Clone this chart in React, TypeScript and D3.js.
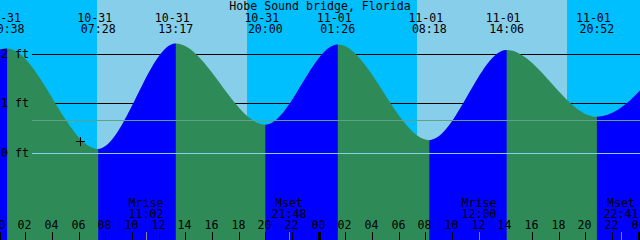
import React from "react";
import * as d3 from "d3";

const title = "Hobe Sound bridge, Florida";
const domainStart = "2021-10-31 00:06";
const domainEnd = "2021-11-02 00:06";

const tideTimes = [
  "2021-10-30 18:50",
  "2021-10-31 00:38",
  "2021-10-31 07:28",
  "2021-10-31 13:17",
  "2021-10-31 20:00",
  "2021-11-01 01:26",
  "2021-11-01 08:18",
  "2021-11-01 14:06",
  "2021-11-01 20:52",
  "2021-11-02 02:30",
];
const tideHeights = [0.5, 2.1, 0.07, 2.2, 0.56, 2.18, 0.25, 2.07, 0.72, 2.05];

const sunriseTimes = ["2021-10-31 07:23", "2021-11-01 07:23"];
const sunsetTimes = ["2021-10-31 18:38", "2021-11-01 18:38"];

const moonLabels = ["Mrise", "Mset", "Mrise", "Mset"];
const moonTimes = ["2021-10-31 11:02", "2021-10-31 21:48", "2021-11-01 12:00", "2021-11-01 22:41"];

const levelTicks = [0, 1, 2];
const mslLevel = 0.65;
const markTime = "2021-10-31 06:06";
const markHeight = 0.23;

const W = 640;
const H = 240;
const NIGHT = "#00BFFF";
const DAY = "#87CEEB";
const EBB = "#2E8B57";
const FLOOD = "#0000FF";
const FONT = "'DejaVu Sans Mono', monospace";
const FS = 11.6;

const parse = d3.utcParse("%Y-%m-%d %H:%M");
const fmtDate = d3.utcFormat("%m-%d");
const fmtTime = d3.utcFormat("%H:%M");
const fmtHour = d3.utcFormat("%H");

export default function App() {
  const x = d3.scaleUtc().domain([parse(domainStart)!, parse(domainEnd)!]).range([0, W]);
  const y = d3.scaleLinear().domain([0, 2]).range([152.5, 53.5]);

  const pts = tideTimes.map((t, i) => ({ t: parse(t)!, h: tideHeights[i] }));
  const area = d3
    .area<{ t: Date; h: number }>()
    .x((d) => x(d.t))
    .y0(H)
    .y1((d) => y(d.h))
    .curve(d3.curveMonotoneX);
  const areaPath = area(pts) || "";

  const rising: { x0: number; x1: number }[] = [];
  for (let i = 0; i < pts.length - 1; i++) {
    if (pts[i + 1].h > pts[i].h) rising.push({ x0: x(pts[i].t), x1: x(pts[i + 1].t) });
  }

  const days = sunriseTimes.map((s, i) => ({ x0: x(parse(s)!), x1: x(parse(sunsetTimes[i])!) }));

  const [d0, d1] = x.domain();
  const hours = d3.utcHour.every(2)!.range(d3.utcDay.floor(d0), new Date(d1.getTime() + 1));
  const visibleExtremes = pts.filter((p) => p.t >= d0 && p.t <= d1);

  const ly = (v: number) => Math.round(y(v)) + 0.5;
  const mx = x(parse(markTime)!);
  const my = y(markHeight);

  return (
    <svg
      width={W}
      height={H}
      style={{ position: "absolute", left: 0, top: 0, display: "block" }}
      fontFamily={FONT}
      fontSize={FS}
    >
      <defs>
        <clipPath id="rise">
          {rising.map((r, i) => (
            <rect key={i} x={r.x0} y={0} width={r.x1 - r.x0} height={H} />
          ))}
        </clipPath>
      </defs>
      <rect x={0} y={0} width={W} height={H} fill={NIGHT} shapeRendering="crispEdges" />
      {days.map((d, i) => (
        <rect key={i} x={d.x0} y={0} width={d.x1 - d.x0} height={H} fill={DAY} shapeRendering="crispEdges" />
      ))}
      {levelTicks
        .filter((v) => v > 0)
        .map((v) => (
          <line key={v} x1={32} x2={W} y1={ly(v)} y2={ly(v)} stroke="#000" strokeWidth={1} />
        ))}
      <path d={areaPath} fill={EBB} />
      <path d={areaPath} fill={FLOOD} clipPath="url(#rise)" />
      <line x1={32} x2={W} y1={ly(0)} y2={ly(0)} stroke={DAY} strokeWidth={1} />
      <line x1={32} x2={W} y1={ly(mslLevel)} y2={ly(mslLevel)} stroke="#62a08e" strokeWidth={1} />
      {levelTicks.map((v) => (
        <text key={v} x={1} y={y(v) + 4}>
          {`${v} ft`}
        </text>
      ))}
      <line x1={mx - 4} x2={mx + 5} y1={Math.round(my) + 0.5} y2={Math.round(my) + 0.5} stroke="#000" />
      <line x1={Math.round(mx) + 0.5} x2={Math.round(mx) + 0.5} y1={my - 4} y2={my + 5} stroke="#000" />
      <text x={W / 2} y={10} textAnchor="middle">
        {title}
      </text>
      {visibleExtremes.map((p, i) => (
        <g key={i}>
          <text x={x(p.t) - 3.5} y={22} textAnchor="middle">
            {fmtDate(p.t)}
          </text>
          <text x={x(p.t)} y={33} textAnchor="middle">
            {fmtTime(p.t)}
          </text>
        </g>
      ))}
      {hours.map((h, i) => {
        const hx = Math.round(x(h));
        const midnight = h.getUTCHours() === 0;
        return (
          <g key={i}>
            <line
              x1={hx + 0.5}
              x2={hx + 0.5}
              y1={232}
              y2={H}
              stroke="#000"
              strokeWidth={midnight ? 3 : 1}
            />
            <text x={hx - 0.5} y={229} textAnchor="middle">
              {fmtHour(h)}
            </text>
          </g>
        );
      })}
      {moonTimes.map((m, i) => {
        const t = parse(m)!;
        const mxx = Math.round(x(t));
        return (
          <g key={i}>
            <line x1={mxx + 0.5} x2={mxx + 0.5} y1={232} y2={H} stroke="#888" strokeWidth={1} />
            <text x={mxx} y={207} textAnchor="middle">
              {moonLabels[i]}
            </text>
            <text x={mxx} y={218} textAnchor="middle">
              {fmtTime(t)}
            </text>
          </g>
        );
      })}
    </svg>
  );
}
